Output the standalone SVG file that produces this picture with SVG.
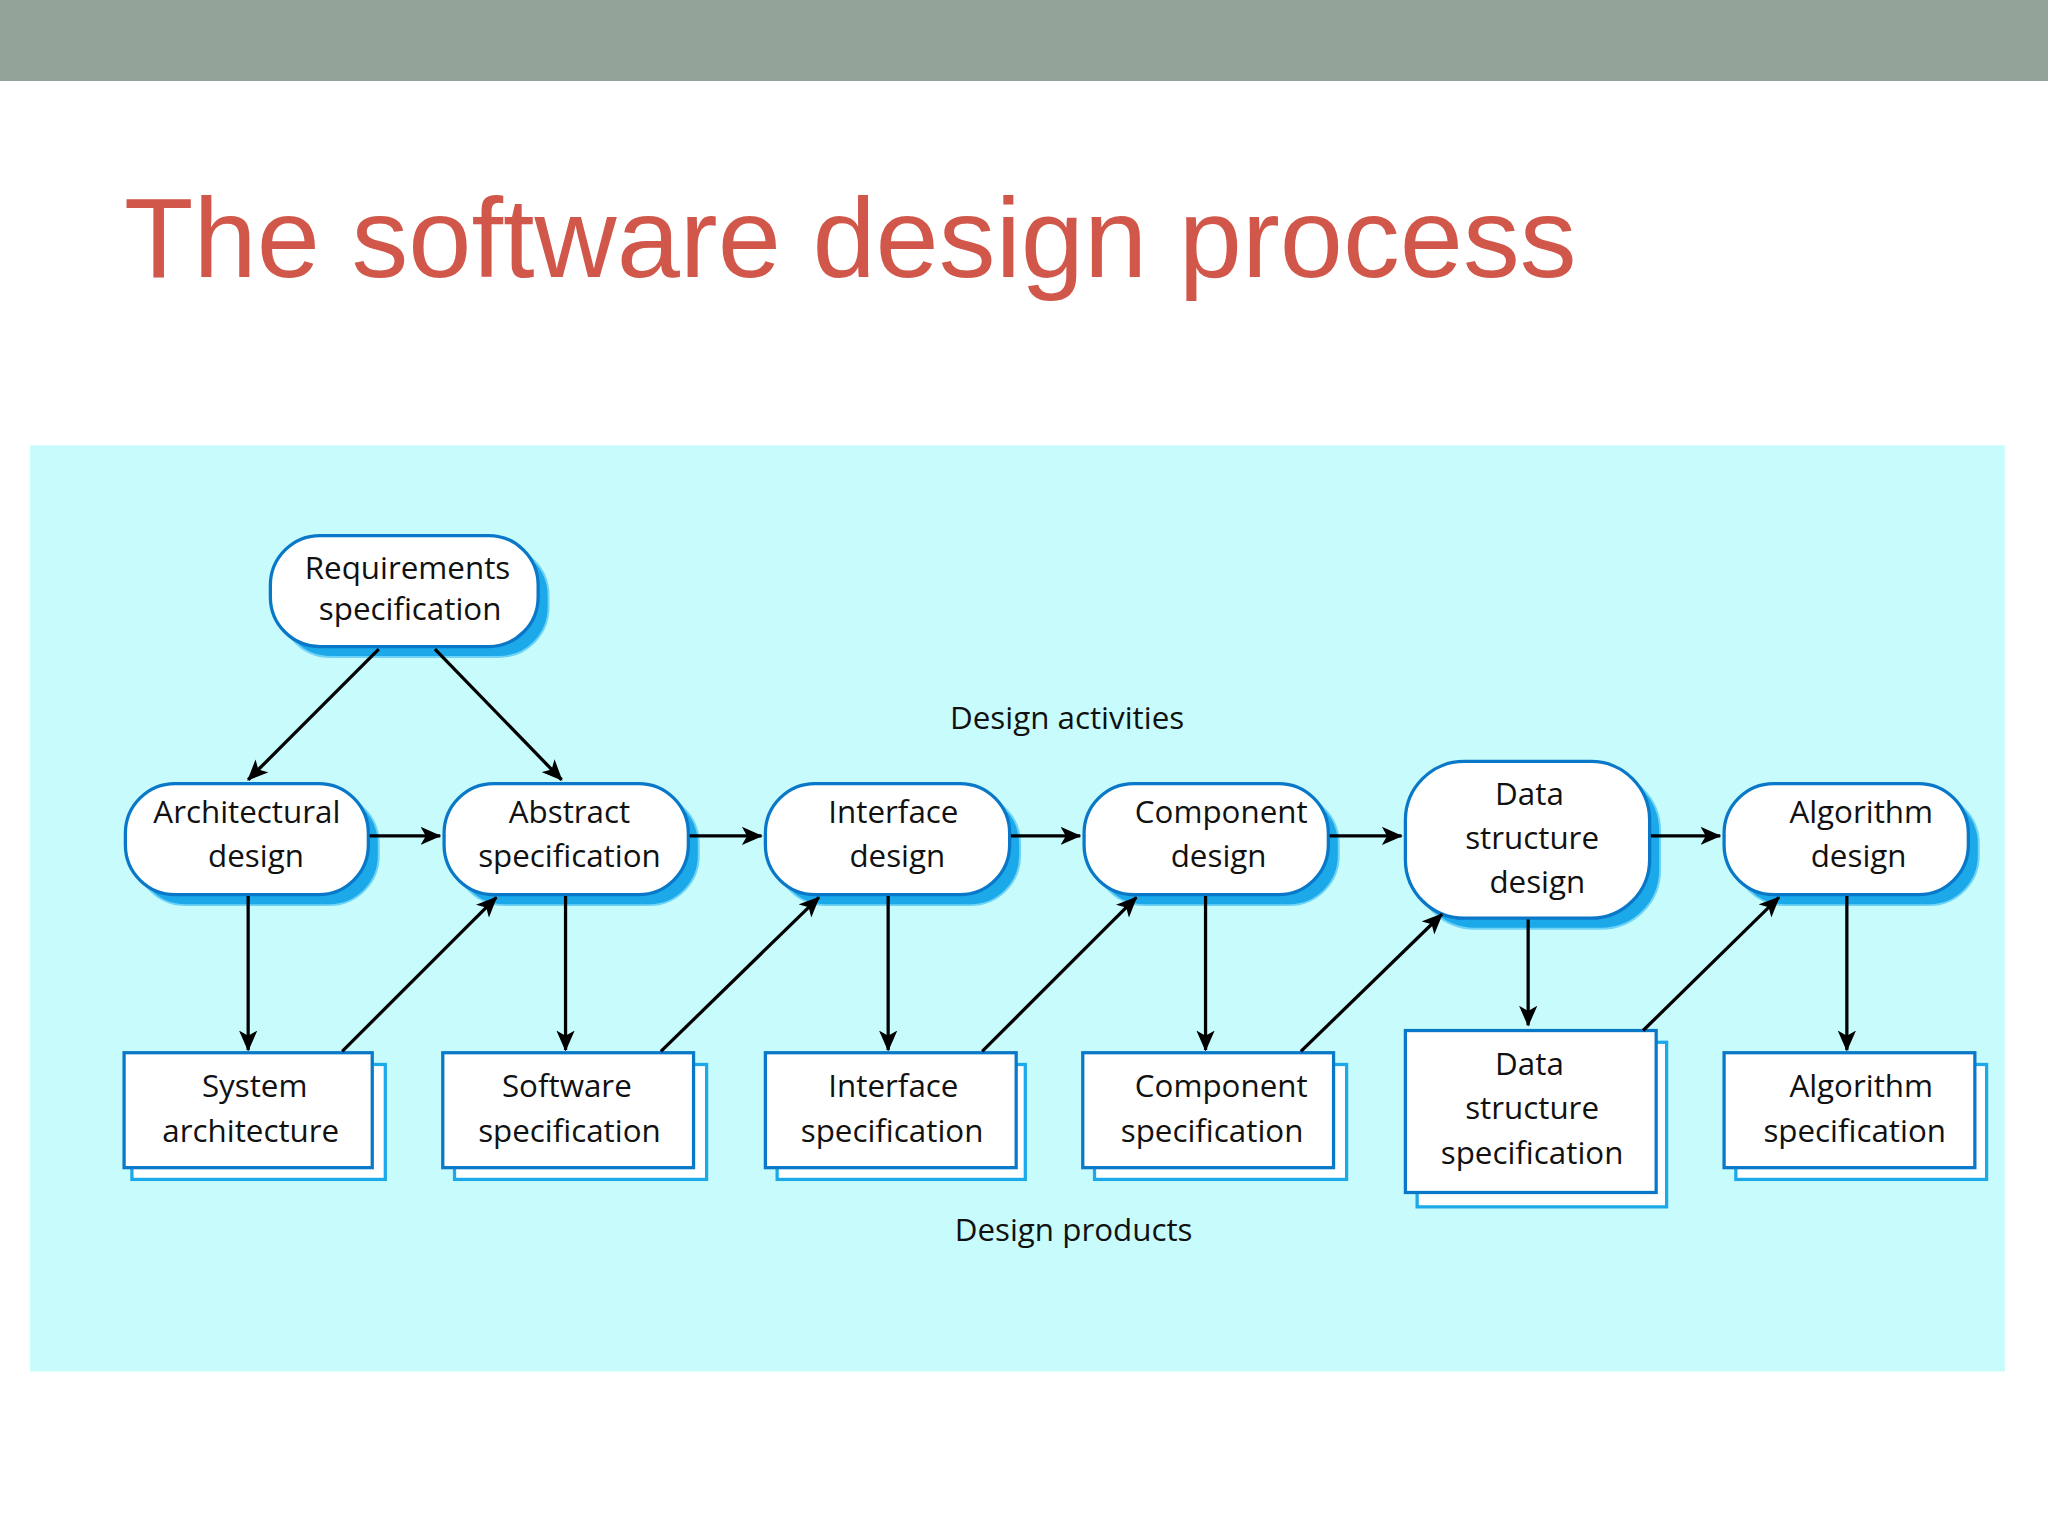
<svg xmlns="http://www.w3.org/2000/svg" width="2048" height="1537" viewBox="0 0 2048 1537">
<defs>
<style>
.nd{fill:#fff;stroke:#0a78c8;stroke-width:2.5}
.sh{fill:#1ba9ea;stroke:#6fd3f7;stroke-width:1.5}
.bx{fill:#fff;stroke:#0a78c8;stroke-width:2.5}
.bs{fill:#fff;stroke:#1ba9ea;stroke-width:2.5}
.t{font-family:"Open Sans","Noto Sans",sans-serif;font-size:24px;fill:#111;text-anchor:middle}
.c line{stroke:#000;stroke-width:2.5;marker-end:url(#a)}
</style>
<marker id="a" markerWidth="16" markerHeight="14" refX="15" refY="7" orient="auto" markerUnits="userSpaceOnUse" viewBox="0 0 16 14"><path d="M0,0 L16,7 L0,14 L4,7 z" fill="#000"/></marker>
</defs>
<rect width="2048" height="1537" fill="#fff"/>
<rect width="2048" height="81" fill="#93a39a"/>
<g transform="scale(1.30612)">
<text x="95" y="212" font-family="Liberation Sans,Arial,sans-serif" font-size="87" fill="#d0574a">The software design process</text>
<rect x="23" y="341" width="1512" height="709" fill="#c8fcfc"/>
<text class="t" x="817" y="558">Design activities</text>
<text class="t" x="822" y="950">Design products</text>
<g id="req"><rect class="sh" x="215" y="418" width="205" height="85" rx="38"/><rect class="nd" x="207" y="410" width="205" height="85" rx="38"/><text class="t" x="312" y="443">Requirements</text><text class="t" x="314" y="475">specification</text></g>
<g id="arch"><rect class="sh" x="104" y="608" width="186" height="85" rx="38"/><rect class="nd" x="96" y="600" width="186" height="85" rx="38"/><text class="t" x="189" y="630">Architectural</text><text class="t" x="196" y="664">design</text></g>
<g id="abs"><rect class="sh" x="348" y="608" width="187" height="85" rx="38"/><rect class="nd" x="340" y="600" width="187" height="85" rx="38"/><text class="t" x="436" y="630">Abstract</text><text class="t" x="436" y="664">specification</text></g>
<g id="ifd"><rect class="sh" x="594" y="608" width="187" height="85" rx="38"/><rect class="nd" x="586" y="600" width="187" height="85" rx="38"/><text class="t" x="684" y="630">Interface</text><text class="t" x="687" y="664">design</text></g>
<g id="cpd"><rect class="sh" x="838" y="608" width="187" height="85" rx="38"/><rect class="nd" x="830" y="600" width="187" height="85" rx="38"/><text class="t" x="935" y="630">Component</text><text class="t" x="933" y="664">design</text></g>
<g id="dsd"><rect class="sh" x="1084" y="591" width="187" height="120" rx="45"/><rect class="nd" x="1076" y="583" width="187" height="120" rx="45"/><text class="t" x="1171" y="616">Data</text><text class="t" x="1173" y="650">structure</text><text class="t" x="1177" y="684">design</text></g>
<g id="agd"><rect class="sh" x="1328" y="608" width="187" height="85" rx="38"/><rect class="nd" x="1320" y="600" width="187" height="85" rx="38"/><text class="t" x="1425" y="630">Algorithm</text><text class="t" x="1423" y="664">design</text></g>
<g id="sa"><rect class="bs" x="101" y="815" width="194" height="88"/><rect class="bx" x="95" y="806" width="190" height="88"/><text class="t" x="195" y="840">System</text><text class="t" x="192" y="874">architecture</text></g>
<g id="ss"><rect class="bs" x="348" y="815" width="193" height="88"/><rect class="bx" x="339" y="806" width="192" height="88"/><text class="t" x="434" y="840">Software</text><text class="t" x="436" y="874">specification</text></g>
<g id="is"><rect class="bs" x="595" y="815" width="190" height="88"/><rect class="bx" x="586" y="806" width="192" height="88"/><text class="t" x="684" y="840">Interface</text><text class="t" x="683" y="874">specification</text></g>
<g id="cs"><rect class="bs" x="838" y="815" width="193" height="88"/><rect class="bx" x="829" y="806" width="192" height="88"/><text class="t" x="935" y="840">Component</text><text class="t" x="928" y="874">specification</text></g>
<g id="ds"><rect class="bs" x="1085" y="798" width="191" height="126"/><rect class="bx" x="1076" y="789" width="192" height="124"/><text class="t" x="1171" y="823">Data</text><text class="t" x="1173" y="857">structure</text><text class="t" x="1173" y="891">specification</text></g>
<g id="as"><rect class="bs" x="1329" y="815" width="192" height="88"/><rect class="bx" x="1320" y="806" width="192" height="88"/><text class="t" x="1425" y="840">Algorithm</text><text class="t" x="1420" y="874">specification</text></g>
<g class="c">
<line x1="290" y1="497" x2="190" y2="597"/><line x1="333" y1="497" x2="430" y2="597"/>
<line x1="283" y1="640" x2="337" y2="640"/><line x1="528" y1="640" x2="583" y2="640"/><line x1="774" y1="640" x2="827" y2="640"/><line x1="1018" y1="640" x2="1073" y2="640"/><line x1="1264" y1="640" x2="1317" y2="640"/>
<line x1="190" y1="686" x2="190" y2="804"/><line x1="433" y1="686" x2="433" y2="804"/><line x1="680" y1="686" x2="680" y2="804"/><line x1="923" y1="686" x2="923" y2="804"/><line x1="1170" y1="704" x2="1170" y2="785"/><line x1="1414" y1="686" x2="1414" y2="804"/>
<line x1="262" y1="805" x2="380" y2="687"/><line x1="506" y1="805" x2="627" y2="687"/><line x1="752" y1="805" x2="870" y2="687"/><line x1="996" y1="805" x2="1104" y2="700"/><line x1="1258" y1="789" x2="1362" y2="687"/>
</g>
</g>
</svg>
